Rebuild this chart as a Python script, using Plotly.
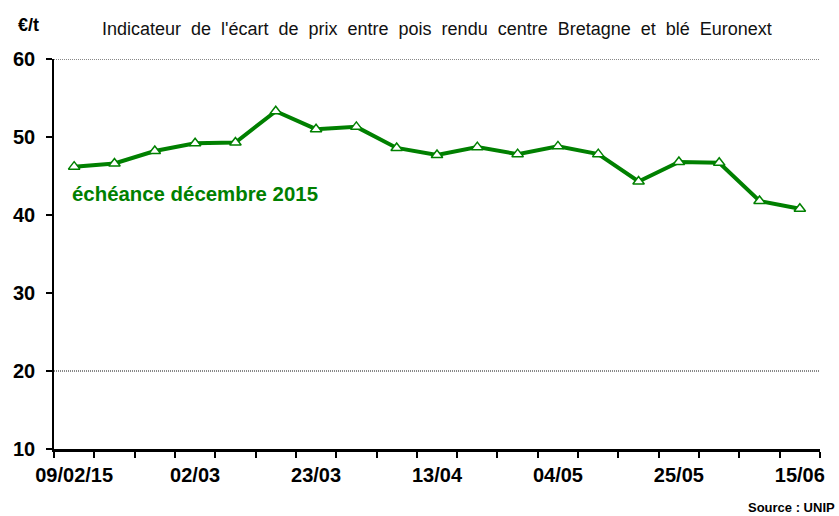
import plotly.graph_objects as go

# --- data ---
dates = ["09/02/15", "16/02", "23/02", "02/03", "09/03", "16/03", "23/03", "30/03",
         "06/04", "13/04", "20/04", "27/04", "04/05", "11/05", "18/05", "25/05",
         "01/06", "08/06", "15/06"]
values = [46.2, 46.6, 48.2, 49.2, 49.3, 53.3, 51.0, 51.3, 48.6, 47.7,
          48.7, 47.8, 48.8, 47.8, 44.3, 46.8, 46.7, 41.8, 40.8]
label_every = 3
y_ticks = [10, 20, 30, 40, 50, 60]
grid_levels = [20, 60]

title_text = "Indicateur  de  l'écart  de  prix  entre  pois  rendu  centre  Bretagne  et  blé  Euronext"
series_name = "échéance décembre 2015"
unit_text = "€/t"
source_text = "Source : UNIP"

GREEN = "#008000"
FONT = "Liberation Sans, Arial, sans-serif"

x_pos = list(range(len(dates)))
label_pos = x_pos[::label_every]
label_txt = [dates[i] for i in label_pos]
boundaries = [i - 0.5 for i in range(len(dates) + 1)]

fig = go.Figure()
fig.add_trace(go.Scatter(
    x=x_pos, y=values, mode="lines+markers", name=series_name,
    line=dict(color=GREEN, width=4),
    marker=dict(symbol="triangle-up", size=10, color="white",
                line=dict(color=GREEN, width=1.5)),
    hoverinfo="x+y", showlegend=False,
))

for g in grid_levels:
    fig.add_shape(type="line", xref="paper", yref="y", x0=0, x1=1, y0=g, y1=g,
                  line=dict(color="#111", width=1, dash="1px,1px"), layer="below")

L, R, T, B = 54, 19, 59, 67
W, H = 839, 516
pw = W - L - R
ph = H - T - B

def px_to_paper_x(px):
    return (px - L) / pw

def px_to_paper_y(py):
    return 1 - (py - T) / ph

fig.update_layout(
    width=W, height=H,
    margin=dict(l=L, r=R, t=T, b=B, autoexpand=False),
    paper_bgcolor="white", plot_bgcolor="white",
    font=dict(family=FONT, color="black"),
    xaxis=dict(
        range=[-0.5, len(dates) - 0.5],
        tickmode="array", tickvals=label_pos, ticktext=label_txt,
        ticks="", showgrid=False, zeroline=False,
        showline=True, linecolor="black", linewidth=2.5,
        tickfont=dict(size=20, family=FONT, color="black", weight="bold"),
        ticklabelstandoff=6,
        minor=dict(tickmode="array", tickvals=boundaries, ticks="outside",
                   ticklen=6, tickwidth=2, tickcolor="black", showgrid=False),
        fixedrange=True,
    ),
    yaxis=dict(
        range=[10, 60], tickmode="array", tickvals=y_ticks,
        ticks="outside", ticklen=6, tickwidth=2, tickcolor="black",
        showgrid=False, zeroline=False,
        showline=True, linecolor="black", linewidth=1.5,
        tickfont=dict(size=20, family=FONT, color="black", weight="bold"),
        ticklabelstandoff=7,
        fixedrange=True,
    ),
    annotations=[
        dict(text=title_text, xref="paper", yref="paper",
             x=px_to_paper_x(437), y=px_to_paper_y(29),
             xanchor="center", yanchor="middle", showarrow=False,
             font=dict(size=18, family=FONT, color="#111")),
        dict(text="<b>" + unit_text + "</b>", xref="paper", yref="paper",
             x=px_to_paper_x(16), y=px_to_paper_y(25),
             xanchor="left", yanchor="middle", showarrow=False,
             font=dict(size=18, family=FONT, color="black")),
        dict(text="<b>" + series_name + "</b>", xref="paper", yref="paper",
             x=px_to_paper_x(70), y=px_to_paper_y(194),
             xanchor="left", yanchor="middle", showarrow=False,
             font=dict(size=20.4, family=FONT, color=GREEN)),
        dict(text="<b>" + source_text + "</b>", xref="paper", yref="paper",
             x=px_to_paper_x(837), y=px_to_paper_y(508),
             xanchor="right", yanchor="middle", showarrow=False,
             font=dict(size=13, family=FONT, color="black")),
    ],
)

fig.write_html("out.html", config={"displayModeBar": False},
               post_script="document.body.style.margin='0px';")
